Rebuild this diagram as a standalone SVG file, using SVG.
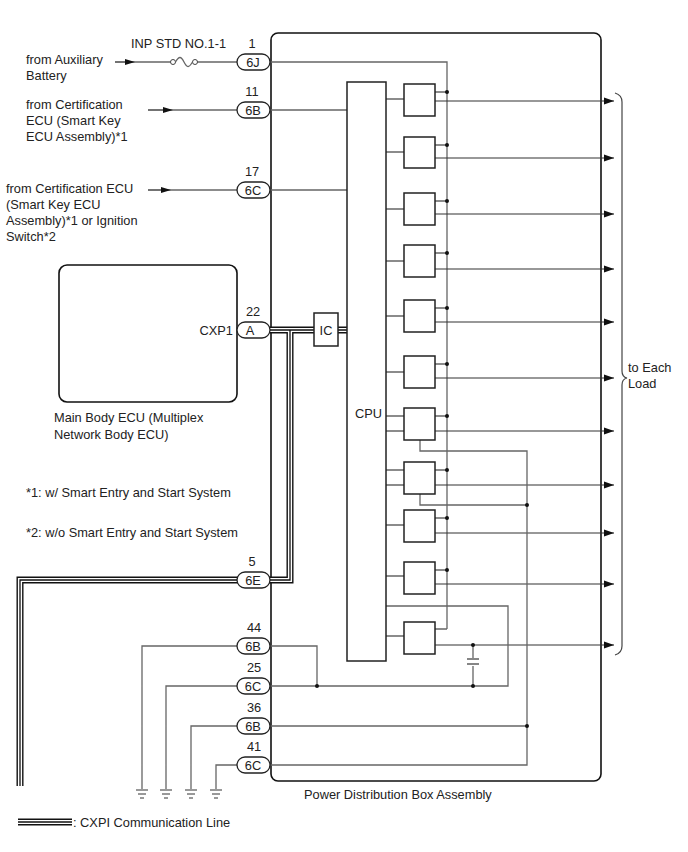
<svg xmlns="http://www.w3.org/2000/svg" width="688" height="852" viewBox="0 0 688 852">
<style>
text{font-family:"Liberation Sans",Arial,sans-serif;font-size:12.8px;fill:#222}
.w{fill:none;stroke:#666;stroke-width:1.3}
.o{fill:none;stroke:#333;stroke-width:1.2}
.b{fill:#fff;stroke:#222;stroke-width:1.5}
.pill{fill:#fff;stroke:#222;stroke-width:1.3}
.c1{fill:none;stroke:#111;stroke-width:7}
.c2{fill:none;stroke:#fff;stroke-width:4.2}
.c3{fill:none;stroke:#111;stroke-width:1.3}
.g{stroke:#555;stroke-width:1.2}
.d{fill:#111}
.m{text-anchor:middle}
</style>
<defs>
<marker id="ar" markerWidth="10" markerHeight="8" refX="10" refY="4" orient="auto" markerUnits="userSpaceOnUse"><path d="M0,0.5 L10,4 L0,7.5 Z" fill="#111"/></marker>
<marker id="ai" markerWidth="10" markerHeight="8" refX="5" refY="4" orient="auto" markerUnits="userSpaceOnUse"><path d="M0,1 L10,4 L0,7 Z" fill="#111"/></marker>
<g id="gnd"><line class="g" x1="-6" y1="0" x2="6" y2="0"/><line class="g" x1="-4" y1="4" x2="4" y2="4"/><line class="g" x1="-2" y1="8" x2="2" y2="8"/></g>
</defs>

<g id="pdb">
<rect x="271" y="33" width="330" height="748" rx="7" fill="#fff" stroke="#111" stroke-width="1.6"/>
<text x="304" y="799">Power Distribution Box Assembly</text>
</g>
<g id="mainecu">
<rect x="59" y="265" width="178" height="137" rx="8" fill="#fff" stroke="#111" stroke-width="1.6"/>
<text x="233" y="335" text-anchor="end">CXP1</text>
<text x="54" y="422">Main Body ECU (Multiplex</text>
<text x="54" y="439">Network Body ECU)</text>
</g>

<g id="connectors">
<path class="w" d="M115,62 H171 M197,62 H237"/>
<line class="w" x1="115" y1="62" x2="130" y2="62" marker-end="url(#ai)"/>
<circle cx="173" cy="62" r="2.5" fill="#fff" stroke="#444"/>
<circle cx="195" cy="62" r="2.5" fill="#fff" stroke="#444"/>
<path class="w" d="M175.5,62 C179,56 181,56 184,62 C187,68 189,68 192.5,62"/>
<path class="w" d="M148,110 H237"/>
<line class="w" x1="148" y1="110" x2="168" y2="110" marker-end="url(#ai)"/>
<path class="w" d="M148,190 H237"/>
<line class="w" x1="148" y1="190" x2="166" y2="190" marker-end="url(#ai)"/>
<path class="w" d="M270,62 H447 V629"/>
<path class="w" d="M270,110 H347 M270,190 H347"/>
<g>
<path class="c1" d="M270,330 H347 M290,330 V580 H20 V786"/>
<path class="c2" d="M270,330 H347 M290,330 V580 H20 V786"/>
<path class="c3" d="M270,330 H347 M290,330 V580 H20 V786"/>
</g>
<path class="w" d="M386,99 H404 M386,152 H404 M386,209 H404 M386,261 H404 M386,316 H404 M386,372 H404 M386,416 H404 M386,431 H404 M386,470 H404 M386,485 H404 M386,525 H404 M386,576 H404 M386,636 H404"/>
<path class="w" d="M435,92 H447 M435,145 H447 M435,201 H447 M435,253 H447 M435,308 H447 M435,364 H447 M435,416 H447 M435,470 H447 M435,518 H447 M435,570 H447 M435,629 H447"/>
<g class="o">
<line x1="435" y1="101" x2="614" y2="101" marker-end="url(#ar)"/>
<line x1="435" y1="158" x2="614" y2="158" marker-end="url(#ar)"/>
<line x1="435" y1="214" x2="614" y2="214" marker-end="url(#ar)"/>
<line x1="435" y1="269" x2="614" y2="269" marker-end="url(#ar)"/>
<line x1="435" y1="322" x2="614" y2="322" marker-end="url(#ar)"/>
<line x1="435" y1="378" x2="614" y2="378" marker-end="url(#ar)"/>
<line x1="435" y1="431" x2="614" y2="431" marker-end="url(#ar)"/>
<line x1="435" y1="485" x2="614" y2="485" marker-end="url(#ar)"/>
<line x1="435" y1="533" x2="614" y2="533" marker-end="url(#ar)"/>
<line x1="435" y1="584" x2="614" y2="584" marker-end="url(#ar)"/>
<line x1="435" y1="645" x2="614" y2="645" marker-end="url(#ar)"/>
</g>
<g class="d">
<circle cx="447" cy="92" r="2"/><circle cx="447" cy="145" r="2"/><circle cx="447" cy="201" r="2"/><circle cx="447" cy="253" r="2"/><circle cx="447" cy="308" r="2"/><circle cx="447" cy="364" r="2"/><circle cx="447" cy="416" r="2"/><circle cx="447" cy="470" r="2"/><circle cx="447" cy="518" r="2"/><circle cx="447" cy="570" r="2"/>
</g>
<path class="w" d="M420,440 V451 H527 V765 H270 M420,494 V505 H527 M270,726 H527"/>
<path class="w" d="M386,606 H508 V686 H270 M270,646 H317 V686"/>
<path class="w" d="M473,645 V658 M473,666 V686"/>
<line x1="467" y1="659" x2="479" y2="659" stroke="#444" stroke-width="1.3"/>
<line x1="467" y1="664" x2="479" y2="664" stroke="#444" stroke-width="1.3"/>
<g class="d"><circle cx="527" cy="505" r="2"/><circle cx="527" cy="726" r="2"/><circle cx="317" cy="686" r="2"/><circle cx="473" cy="686" r="2"/><circle cx="473" cy="645" r="2"/></g>
<path class="w" d="M237,646 H142 V789 M237,686 H166 V789 M237,726 H191 V789 M237,765 H216 V789"/>
<use href="#gnd" x="142" y="790"/><use href="#gnd" x="166" y="790"/><use href="#gnd" x="191" y="790"/><use href="#gnd" x="216" y="790"/>
<path fill="none" stroke="#444" stroke-width="1.2" d="M615,93 Q622,95 622,102 V371 Q622,377 627,378 Q622,379 622,385 V646 Q622,653 615,655"/>
</g>

<g id="pins">
<rect class="pill" x="237" y="54" width="33" height="16" rx="8"/><text class="m" x="253" y="67">6J</text><text class="m" x="252" y="48">1</text>
<rect class="pill" x="237" y="102" width="33" height="16" rx="8"/><text class="m" x="253" y="115">6B</text><text class="m" x="252" y="96">11</text>
<rect class="pill" x="237" y="182" width="33" height="16" rx="8"/><text class="m" x="253" y="195">6C</text><text class="m" x="252" y="176">17</text>
<rect class="pill" x="237" y="322" width="33" height="16" rx="8"/><text class="m" x="250" y="335">A</text><text class="m" x="253" y="316">22</text>
<rect class="pill" x="237" y="572" width="33" height="16" rx="8"/><text class="m" x="253" y="585">6E</text><text class="m" x="252" y="566">5</text>
<rect class="pill" x="237" y="638" width="33" height="16" rx="8"/><text class="m" x="253" y="651">6B</text><text class="m" x="254" y="632">44</text>
<rect class="pill" x="237" y="678" width="33" height="16" rx="8"/><text class="m" x="253" y="691">6C</text><text class="m" x="254" y="672">25</text>
<rect class="pill" x="237" y="718" width="33" height="16" rx="8"/><text class="m" x="253" y="731">6B</text><text class="m" x="254" y="712">36</text>
<rect class="pill" x="237" y="757" width="33" height="16" rx="8"/><text class="m" x="253" y="770">6C</text><text class="m" x="254" y="751">41</text>
</g>

<g id="ic"><rect class="b" x="314" y="313" width="24" height="33"/><text class="m" x="326" y="335">IC</text></g>
<g id="cpu"><rect class="b" x="347" y="82" width="39" height="579"/><text x="355" y="418">CPU</text></g>
<g id="switches">
<rect class="b" x="404" y="84" width="31" height="32"/>
<rect class="b" x="404" y="137" width="31" height="31"/>
<rect class="b" x="404" y="193" width="31" height="32"/>
<rect class="b" x="404" y="245" width="31" height="32"/>
<rect class="b" x="404" y="300" width="31" height="32"/>
<rect class="b" x="404" y="356" width="31" height="32"/>
<rect class="b" x="404" y="408" width="31" height="32"/>
<rect class="b" x="404" y="462" width="31" height="32"/>
<rect class="b" x="404" y="510" width="31" height="32"/>
<rect class="b" x="404" y="562" width="31" height="32"/>
<rect class="b" x="404" y="622" width="31" height="32"/>
</g>

<g id="labels">
<text x="131" y="48">INP STD NO.1-1</text>
<text x="26" y="64">from Auxiliary</text><text x="26" y="80">Battery</text>
<text x="26" y="109">from Certification</text><text x="26" y="125">ECU (Smart Key</text><text x="26" y="141">ECU Assembly)*1</text>
<text x="6" y="193">from Certification ECU</text><text x="6" y="209">(Smart Key ECU</text><text x="6" y="225">Assembly)*1 or Ignition</text><text x="6" y="241">Switch*2</text>
<text x="26" y="497">*1: w/ Smart Entry and Start System</text>
<text x="26" y="537">*2: w/o Smart Entry and Start System</text>
<text x="628" y="372">to Each</text><text x="628" y="388">Load</text>
</g>
<g id="legend">
<path class="c1" d="M18,822 H72"/><path class="c2" d="M18,822 H72"/><path class="c3" d="M18,822 H72"/>
<text x="73" y="827">: CXPI Communication Line</text>
</g>
</svg>
